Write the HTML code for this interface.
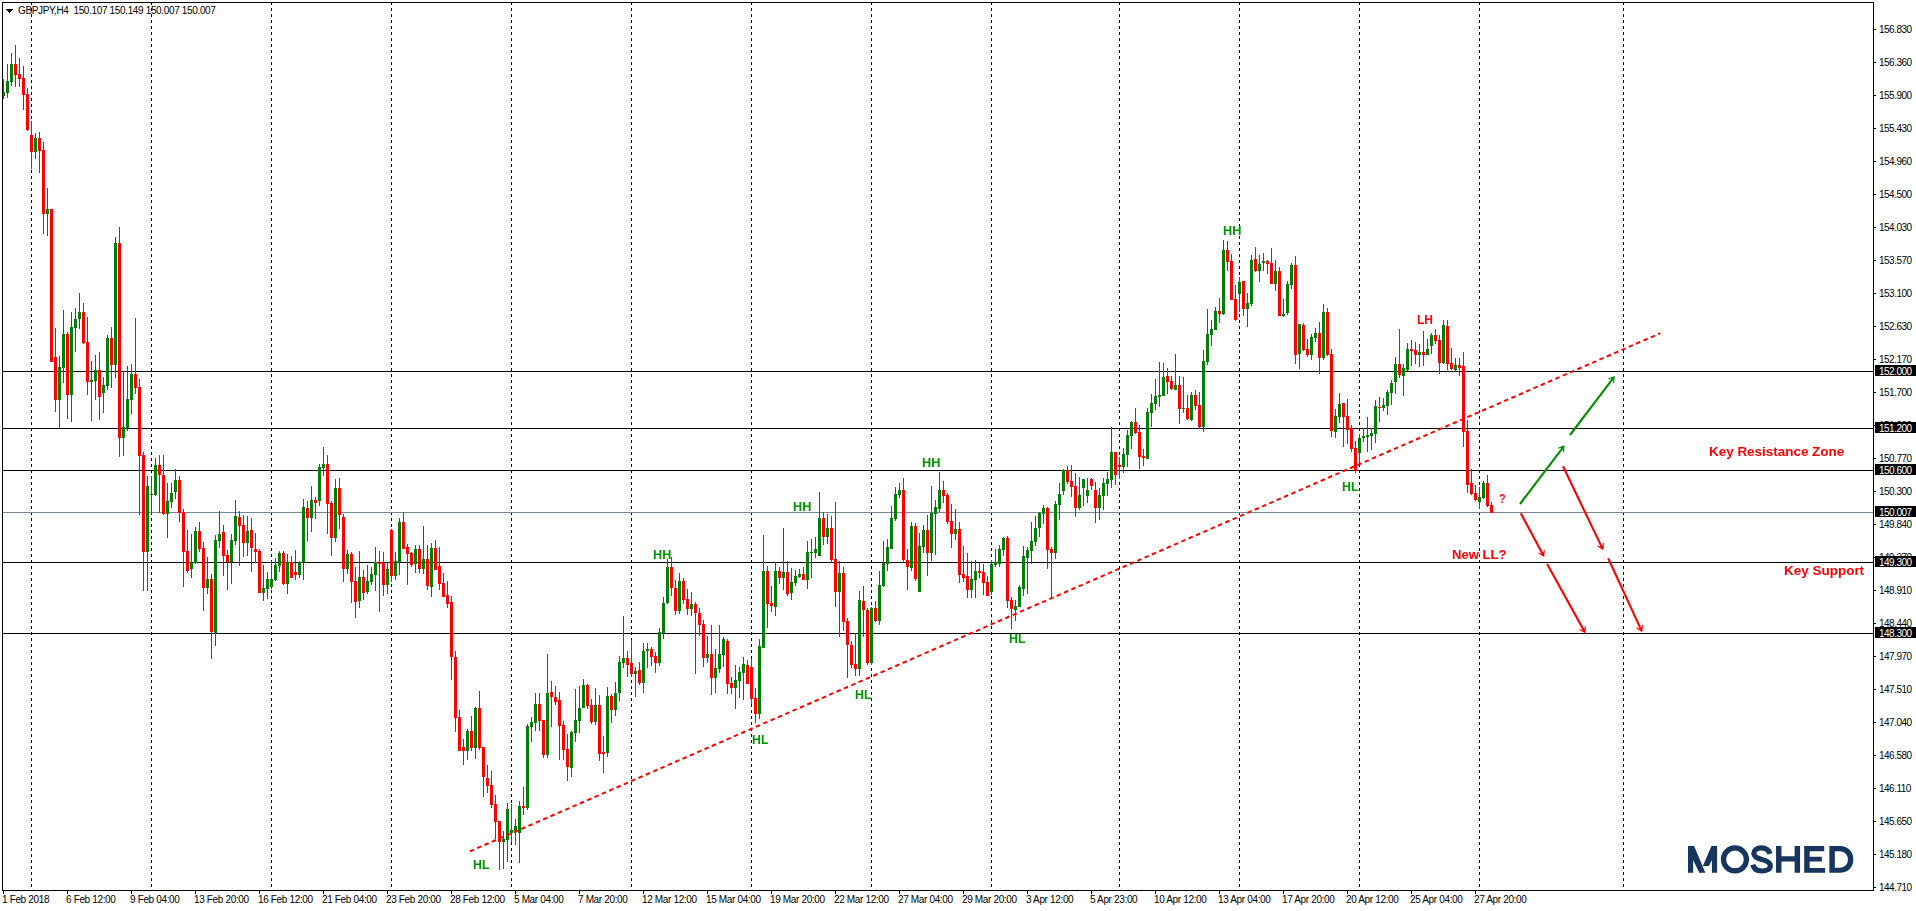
<!DOCTYPE html>
<html><head><meta charset="utf-8"><title>GBPJPY H4</title>
<style>
html,body{margin:0;padding:0;background:#fff;}
body{width:1916px;height:911px;overflow:hidden;position:relative;font-family:"Liberation Sans",sans-serif;}
svg{position:absolute;left:0;top:0;}
.t{position:absolute;white-space:nowrap;line-height:1;color:#000;}
.ax{font-size:10px;letter-spacing:-0.5px;}
.bx{font-size:10px;letter-spacing:-0.35px;}
.pl{position:absolute;left:1875px;width:41px;height:11px;background:#000;}
.lb{font-weight:bold;font-size:12px;will-change:transform;}
</style></head><body>
<svg width="1916" height="911" viewBox="0 0 1916 911" shape-rendering="crispEdges">
<g stroke="#000" stroke-width="1" stroke-dasharray="3 3">
<line x1="31.5" y1="2" x2="31.5" y2="890"/>
<line x1="151.5" y1="2" x2="151.5" y2="890"/>
<line x1="271.5" y1="2" x2="271.5" y2="890"/>
<line x1="391.5" y1="2" x2="391.5" y2="890"/>
<line x1="511.5" y1="2" x2="511.5" y2="890"/>
<line x1="631.5" y1="2" x2="631.5" y2="890"/>
<line x1="751.5" y1="2" x2="751.5" y2="890"/>
<line x1="871.5" y1="2" x2="871.5" y2="890"/>
<line x1="991.5" y1="2" x2="991.5" y2="890"/>
<line x1="1119.5" y1="2" x2="1119.5" y2="890"/>
<line x1="1239.5" y1="2" x2="1239.5" y2="890"/>
<line x1="1359.5" y1="2" x2="1359.5" y2="890"/>
<line x1="1479.5" y1="2" x2="1479.5" y2="890"/>
<line x1="1623.5" y1="2" x2="1623.5" y2="890"/>
</g>
<g fill="#000">
<rect x="3" y="371" width="1870" height="1"/>
<rect x="3" y="428" width="1870" height="1"/>
<rect x="3" y="470" width="1870" height="1"/>
<rect x="3" y="562" width="1870" height="1"/>
<rect x="3" y="633" width="1870" height="1"/>
</g>
<rect x="3" y="512" width="1870" height="1" fill="#778899"/>
<path fill="#008000" d="M3 79h1v20h-1zM2 92h3v4h-3zM7 64h1v34h-1zM6 81h3v12h-3zM11 53h1v33h-1zM10 64h3v18h-3zM35 133h1v26h-1zM34 138h3v14h-3zM47 188h1v48h-1zM46 209h3v5h-3zM59 356h1v72h-1zM58 367h3v33h-3zM63 310h1v73h-1zM62 334h3v34h-3zM71 312h1v110h-1zM70 327h3v68h-3zM75 308h1v44h-1zM74 319h3v9h-3zM79 293h1v36h-1zM78 312h3v7h-3zM91 361h1v60h-1zM90 380h3v2h-3zM95 355h1v45h-1zM94 370h3v11h-3zM103 377h1v36h-1zM102 385h3v8h-3zM107 335h1v55h-1zM106 338h3v48h-3zM115 237h1v141h-1zM114 243h3v122h-3zM123 371h1v85h-1zM122 427h3v11h-3zM127 366h1v65h-1zM126 399h3v29h-3zM131 364h1v50h-1zM130 374h3v26h-3zM147 476h1v115h-1zM146 486h3v66h-3zM151 476h1v38h-1zM150 494h3v1h-3zM155 458h1v38h-1zM154 465h3v30h-3zM167 483h1v55h-1zM166 501h3v13h-3zM171 483h1v25h-1zM170 493h3v9h-3zM175 469h1v30h-1zM174 480h3v12h-3zM191 534h1v44h-1zM190 562h3v7h-3zM195 527h1v37h-1zM194 531h3v32h-3zM207 557h1v37h-1zM206 579h3v9h-3zM215 535h1v111h-1zM214 540h3v93h-3zM219 511h1v37h-1zM218 534h3v7h-3zM231 534h1v50h-1zM230 540h3v22h-3zM235 500h1v45h-1zM234 516h3v25h-3zM247 516h1v40h-1zM246 531h3v12h-3zM263 565h1v36h-1zM262 588h3v5h-3zM267 572h1v27h-1zM266 579h3v10h-3zM271 561h1v28h-1zM270 579h3v8h-3zM275 558h1v23h-1zM274 565h3v15h-3zM279 551h1v21h-1zM278 553h3v13h-3zM287 554h1v40h-1zM286 562h3v22h-3zM299 561h1v17h-1zM298 562h3v13h-3zM303 499h1v81h-1zM302 507h3v55h-3zM311 486h1v46h-1zM310 500h3v18h-3zM319 464h1v42h-1zM318 467h3v34h-3zM323 447h1v29h-1zM322 464h3v4h-3zM335 479h1v63h-1zM334 488h3v50h-3zM347 550h1v24h-1zM346 554h3v15h-3zM359 551h1v57h-1zM358 577h3v24h-3zM367 565h1v29h-1zM366 581h3v11h-3zM371 567h1v18h-1zM370 574h3v8h-3zM375 547h1v44h-1zM374 562h3v13h-3zM387 562h1v32h-1zM386 569h3v16h-3zM395 552h1v28h-1zM394 561h3v15h-3zM399 518h1v57h-1zM398 522h3v40h-3zM415 545h1v28h-1zM414 549h3v15h-3zM423 526h1v48h-1zM422 559h3v10h-3zM431 543h1v54h-1zM430 548h3v39h-3zM467 729h1v31h-1zM466 731h3v20h-3zM475 707h1v52h-1zM474 708h3v40h-3zM503 831h1v38h-1zM502 839h3v3h-3zM507 803h1v59h-1zM506 809h3v31h-3zM511 804h1v38h-1zM510 830h3v3h-3zM515 819h1v26h-1zM514 826h3v5h-3zM519 801h1v62h-1zM518 806h3v27h-3zM527 724h1v86h-1zM526 726h3v82h-3zM531 717h1v25h-1zM530 722h3v5h-3zM535 693h1v38h-1zM534 704h3v19h-3zM547 654h1v104h-1zM546 693h3v62h-3zM571 731h1v46h-1zM570 732h3v36h-3zM575 689h1v53h-1zM574 720h3v13h-3zM579 686h1v47h-1zM578 708h3v13h-3zM583 679h1v29h-1zM582 685h3v23h-3zM595 688h1v37h-1zM594 705h3v17h-3zM607 687h1v70h-1zM606 696h3v57h-3zM615 682h1v34h-1zM614 693h3v17h-3zM619 656h1v45h-1zM618 662h3v31h-3zM623 616h1v52h-1zM622 658h3v5h-3zM635 667h1v30h-1zM634 671h3v3h-3zM643 643h1v50h-1zM642 651h3v32h-3zM647 643h1v25h-1zM646 649h3v2h-3zM659 628h1v38h-1zM658 632h3v31h-3zM663 597h1v42h-1zM662 603h3v30h-3zM667 559h1v45h-1zM666 567h3v36h-3zM679 573h1v41h-1zM678 581h3v30h-3zM691 592h1v24h-1zM690 604h3v5h-3zM707 636h1v27h-1zM706 654h3v4h-3zM715 649h1v44h-1zM714 668h3v10h-3zM719 625h1v48h-1zM718 654h3v15h-3zM723 637h1v30h-1zM722 639h3v16h-3zM735 665h1v44h-1zM734 680h3v8h-3zM739 667h1v31h-1zM738 672h3v9h-3zM743 657h1v43h-1zM742 664h3v9h-3zM759 639h1v80h-1zM758 646h3v68h-3zM763 535h1v113h-1zM762 571h3v77h-3zM775 562h1v54h-1zM774 571h3v36h-3zM783 528h1v62h-1zM782 572h3v6h-3zM791 568h1v32h-1zM790 582h3v11h-3zM795 570h1v16h-1zM794 576h3v7h-3zM799 569h1v9h-1zM798 574h3v3h-3zM807 541h1v48h-1zM806 552h3v28h-3zM811 539h1v39h-1zM810 552h3v1h-3zM815 537h1v21h-1zM814 549h3v4h-3zM819 492h1v64h-1zM818 518h3v38h-3zM827 514h1v30h-1zM826 528h3v9h-3zM839 561h1v76h-1zM838 573h3v19h-3zM859 591h1v85h-1zM858 600h3v69h-3zM871 607h1v58h-1zM870 608h3v55h-3zM879 571h1v54h-1zM878 585h3v36h-3zM883 541h1v46h-1zM882 563h3v23h-3zM887 539h1v32h-1zM886 547h3v17h-3zM891 506h1v43h-1zM890 518h3v31h-3zM895 487h1v34h-1zM894 494h3v25h-3zM899 483h1v15h-1zM898 490h3v5h-3zM911 522h1v49h-1zM910 526h3v42h-3zM919 533h1v59h-1zM918 546h3v46h-3zM923 525h1v28h-1zM922 530h3v17h-3zM931 486h1v75h-1zM930 513h3v40h-3zM935 500h1v55h-1zM934 507h3v7h-3zM939 472h1v40h-1zM938 490h3v19h-3zM955 509h1v31h-1zM954 529h3v5h-3zM971 561h1v37h-1zM970 579h3v11h-3zM975 560h1v38h-1zM974 571h3v9h-3zM991 560h1v35h-1zM990 564h3v28h-3zM995 549h1v18h-1zM994 562h3v3h-3zM999 545h1v22h-1zM998 549h3v15h-3zM1003 537h1v19h-1zM1002 538h3v12h-3zM1015 600h1v21h-1zM1014 606h3v4h-3zM1019 585h1v22h-1zM1018 587h3v20h-3zM1023 546h1v50h-1zM1022 556h3v33h-3zM1027 547h1v47h-1zM1026 550h3v8h-3zM1031 522h1v42h-1zM1030 541h3v10h-3zM1035 516h1v30h-1zM1034 528h3v14h-3zM1039 512h1v25h-1zM1038 513h3v15h-3zM1043 505h1v19h-1zM1042 508h3v6h-3zM1055 501h1v58h-1zM1054 504h3v49h-3zM1059 483h1v37h-1zM1058 494h3v11h-3zM1063 469h1v26h-1zM1062 470h3v21h-3zM1079 477h1v33h-1zM1078 495h3v13h-3zM1083 479h1v27h-1zM1082 479h3v9h-3zM1087 478h1v25h-1zM1086 490h3v6h-3zM1099 488h1v32h-1zM1098 495h3v13h-3zM1103 478h1v32h-1zM1102 483h3v13h-3zM1107 472h1v24h-1zM1106 479h3v5h-3zM1111 427h1v61h-1zM1110 452h3v28h-3zM1123 448h1v25h-1zM1122 454h3v13h-3zM1127 430h1v37h-1zM1126 435h3v20h-3zM1131 421h1v28h-1zM1130 422h3v14h-3zM1147 408h1v51h-1zM1146 412h3v47h-3zM1151 394h1v33h-1zM1150 403h3v10h-3zM1155 379h1v31h-1zM1154 396h3v8h-3zM1159 362h1v45h-1zM1158 395h3v2h-3zM1163 363h1v33h-1zM1162 377h3v19h-3zM1175 354h1v36h-1zM1174 385h3v5h-3zM1183 377h1v36h-1zM1182 408h3v1h-3zM1191 392h1v29h-1zM1190 395h3v25h-3zM1203 350h1v82h-1zM1202 361h3v66h-3zM1207 309h1v56h-1zM1206 334h3v28h-3zM1211 320h1v26h-1zM1210 329h3v6h-3zM1215 307h1v23h-1zM1214 311h3v19h-3zM1223 240h1v75h-1zM1222 250h3v64h-3zM1239 277h1v35h-1zM1238 282h3v12h-3zM1247 293h1v34h-1zM1246 303h3v6h-3zM1251 255h1v51h-1zM1250 260h3v44h-3zM1259 255h1v27h-1zM1258 264h3v7h-3zM1263 253h1v18h-1zM1262 261h3v2h-3zM1275 260h1v31h-1zM1274 271h3v13h-3zM1283 299h1v18h-1zM1282 314h3v2h-3zM1287 281h1v34h-1zM1286 284h3v29h-3zM1291 263h1v26h-1zM1290 265h3v20h-3zM1299 324h1v45h-1zM1298 324h3v30h-3zM1311 334h1v26h-1zM1310 337h3v18h-3zM1315 328h1v14h-1zM1314 333h3v5h-3zM1323 304h1v56h-1zM1322 312h3v46h-3zM1335 409h1v29h-1zM1334 416h3v16h-3zM1339 393h1v30h-1zM1338 404h3v13h-3zM1359 434h1v30h-1zM1358 438h3v15h-3zM1363 428h1v14h-1zM1362 436h3v2h-3zM1367 417h1v35h-1zM1366 435h3v2h-3zM1371 428h1v22h-1zM1370 433h3v3h-3zM1375 400h1v43h-1zM1374 406h3v28h-3zM1383 398h1v13h-1zM1382 405h3v3h-3zM1387 390h1v25h-1zM1386 392h3v14h-3zM1391 380h1v25h-1zM1390 383h3v10h-3zM1395 357h1v37h-1zM1394 364h3v18h-3zM1403 364h1v32h-1zM1402 368h3v8h-3zM1407 343h1v28h-1zM1406 349h3v21h-3zM1419 344h1v23h-1zM1418 352h3v3h-3zM1427 339h1v16h-1zM1426 349h3v6h-3zM1431 333h1v21h-1zM1430 335h3v11h-3zM1443 320h1v44h-1zM1442 325h3v38h-3zM1455 358h1v14h-1zM1454 365h3v5h-3zM1479 487h1v22h-1zM1478 497h3v5h-3zM1483 481h1v18h-1zM1482 483h3v15h-3z"/>
<path fill="#ff0000" d="M15 45h1v42h-1zM14 64h3v11h-3zM19 58h1v29h-1zM18 74h3v5h-3zM23 66h1v44h-1zM22 78h3v17h-3zM27 88h1v43h-1zM26 94h3v36h-3zM31 121h1v48h-1zM30 135h3v17h-3zM39 132h1v41h-1zM38 138h3v13h-3zM43 142h1v92h-1zM42 150h3v64h-3zM51 209h1v153h-1zM50 209h3v153h-3zM55 328h1v84h-1zM54 357h3v43h-3zM67 332h1v87h-1zM66 334h3v61h-3zM83 303h1v41h-1zM82 312h3v31h-3zM87 317h1v78h-1zM86 342h3v40h-3zM99 352h1v68h-1zM98 370h3v27h-3zM111 327h1v61h-1zM110 338h3v27h-3zM119 227h1v230h-1zM118 243h3v195h-3zM135 318h1v76h-1zM134 374h3v14h-3zM139 379h1v136h-1zM138 387h3v69h-3zM143 452h1v139h-1zM142 455h3v97h-3zM159 455h1v58h-1zM158 465h3v10h-3zM163 455h1v60h-1zM162 475h3v39h-3zM179 476h1v46h-1zM178 480h3v33h-3zM183 509h1v78h-1zM182 512h3v40h-3zM187 530h1v43h-1zM186 551h3v20h-3zM199 522h1v30h-1zM198 531h3v18h-3zM203 542h1v69h-1zM202 548h3v40h-3zM211 574h1v85h-1zM210 579h3v53h-3zM223 525h1v51h-1zM222 532h3v24h-3zM227 550h1v40h-1zM226 555h3v7h-3zM239 511h1v55h-1zM238 517h3v9h-3zM243 515h1v42h-1zM242 525h3v18h-3zM251 518h1v54h-1zM250 530h3v18h-3zM255 533h1v30h-1zM254 549h3v3h-3zM259 549h1v44h-1zM258 551h3v42h-3zM283 551h1v34h-1zM282 553h3v31h-3zM291 556h1v22h-1zM290 562h3v16h-3zM295 550h1v30h-1zM294 572h3v3h-3zM307 501h1v40h-1zM306 508h3v10h-3zM315 497h1v22h-1zM314 500h3v3h-3zM327 455h1v79h-1zM326 464h3v40h-3zM331 501h1v55h-1zM330 503h3v35h-3zM339 478h1v51h-1zM338 488h3v27h-3zM343 514h1v68h-1zM342 517h3v52h-3zM351 552h1v51h-1zM350 554h3v28h-3zM355 567h1v51h-1zM354 581h3v21h-3zM363 570h1v30h-1zM362 577h3v16h-3zM379 551h1v61h-1zM378 562h3v2h-3zM383 552h1v44h-1zM382 563h3v22h-3zM391 529h1v53h-1zM390 530h3v46h-3zM403 512h1v37h-1zM402 522h3v27h-3zM407 544h1v41h-1zM406 547h3v7h-3zM411 552h1v15h-1zM410 553h3v12h-3zM419 545h1v28h-1zM418 549h3v20h-3zM427 545h1v45h-1zM426 559h3v27h-3zM435 540h1v30h-1zM434 548h3v22h-3zM439 547h1v43h-1zM438 566h3v18h-3zM443 573h1v24h-1zM442 583h3v14h-3zM447 581h1v27h-1zM446 595h3v9h-3zM451 596h1v84h-1zM450 602h3v55h-3zM455 651h1v81h-1zM454 657h3v61h-3zM459 710h1v41h-1zM458 717h3v34h-3zM463 739h1v26h-1zM462 747h3v4h-3zM471 716h1v35h-1zM470 731h3v17h-3zM479 691h1v59h-1zM478 708h3v40h-3zM483 747h1v50h-1zM482 747h3v30h-3zM487 765h1v28h-1zM486 778h3v8h-3zM491 771h1v37h-1zM490 785h3v20h-3zM495 795h1v44h-1zM494 804h3v18h-3zM499 821h1v49h-1zM498 821h3v21h-3zM523 787h1v28h-1zM522 806h3v2h-3zM539 693h1v38h-1zM538 704h3v17h-3zM543 720h1v38h-1zM542 720h3v35h-3zM551 681h1v46h-1zM550 692h3v5h-3zM555 686h1v19h-1zM554 697h3v5h-3zM559 692h1v68h-1zM558 700h3v26h-3zM563 721h1v39h-1zM562 725h3v25h-3zM567 734h1v47h-1zM566 749h3v18h-3zM587 684h1v25h-1zM586 685h3v21h-3zM591 699h1v25h-1zM590 705h3v17h-3zM599 695h1v66h-1zM598 705h3v49h-3zM603 736h1v37h-1zM602 752h3v2h-3zM611 694h1v29h-1zM610 696h3v14h-3zM627 651h1v26h-1zM626 658h3v7h-3zM631 640h1v37h-1zM630 663h3v11h-3zM639 662h1v23h-1zM638 670h3v13h-3zM651 647h1v19h-1zM650 649h3v8h-3zM655 652h1v21h-1zM654 656h3v7h-3zM671 557h1v39h-1zM670 567h3v21h-3zM675 580h1v35h-1zM674 588h3v23h-3zM683 578h1v26h-1zM682 581h3v19h-3zM687 589h1v26h-1zM686 599h3v10h-3zM695 602h1v72h-1zM694 604h3v9h-3zM699 608h1v28h-1zM698 613h3v12h-3zM703 620h1v47h-1zM702 624h3v34h-3zM711 625h1v70h-1zM710 654h3v24h-3zM727 639h1v55h-1zM726 641h3v43h-3zM731 677h1v17h-1zM730 683h3v5h-3zM747 660h1v24h-1zM746 665h3v19h-3zM751 659h1v45h-1zM750 667h3v32h-3zM755 688h1v35h-1zM754 698h3v16h-3zM767 566h1v62h-1zM766 571h3v33h-3zM771 586h1v26h-1zM770 603h3v3h-3zM779 567h1v17h-1zM778 571h3v7h-3zM787 561h1v35h-1zM786 572h3v22h-3zM803 567h1v13h-1zM802 574h3v6h-3zM823 512h1v33h-1zM822 518h3v19h-3zM831 516h1v47h-1zM830 528h3v32h-3zM835 502h1v105h-1zM834 559h3v33h-3zM843 567h1v64h-1zM842 573h3v49h-3zM847 618h1v60h-1zM846 621h3v24h-3zM851 641h1v27h-1zM850 645h3v20h-3zM855 633h1v43h-1zM854 664h3v5h-3zM863 586h1v51h-1zM862 601h3v9h-3zM867 608h1v57h-1zM866 610h3v53h-3zM875 601h1v21h-1zM874 608h3v13h-3zM903 478h1v85h-1zM902 490h3v70h-3zM907 549h1v41h-1zM906 560h3v7h-3zM915 523h1v58h-1zM914 526h3v53h-3zM927 515h1v61h-1zM926 530h3v23h-3zM943 481h1v22h-1zM942 490h3v6h-3zM947 493h1v31h-1zM946 495h3v27h-3zM951 504h1v44h-1zM950 521h3v13h-3zM959 522h1v61h-1zM958 529h3v46h-3zM963 546h1v36h-1zM962 574h3v4h-3zM967 553h1v45h-1zM966 576h3v14h-3zM979 563h1v15h-1zM978 571h3v2h-3zM983 564h1v31h-1zM982 572h3v11h-3zM987 576h1v20h-1zM986 582h3v14h-3zM1007 536h1v72h-1zM1006 538h3v63h-3zM1011 597h1v32h-1zM1010 600h3v9h-3zM1047 507h1v62h-1zM1046 508h3v42h-3zM1051 547h1v52h-1zM1050 549h3v4h-3zM1067 466h1v18h-1zM1066 470h3v12h-3zM1071 465h1v32h-1zM1070 481h3v6h-3zM1075 473h1v44h-1zM1074 486h3v22h-3zM1091 478h1v12h-1zM1090 479h3v7h-3zM1095 482h1v41h-1zM1094 490h3v18h-3zM1115 452h1v33h-1zM1114 452h3v23h-3zM1119 457h1v22h-1zM1118 465h3v2h-3zM1135 408h1v26h-1zM1134 422h3v11h-3zM1139 425h1v44h-1zM1138 432h3v25h-3zM1143 449h1v17h-1zM1142 456h3v2h-3zM1167 368h1v26h-1zM1166 376h3v6h-3zM1171 376h1v14h-1zM1170 381h3v8h-3zM1179 376h1v48h-1zM1178 385h3v24h-3zM1187 395h1v25h-1zM1186 408h3v11h-3zM1195 390h1v20h-1zM1194 395h3v11h-3zM1199 392h1v37h-1zM1198 405h3v22h-3zM1219 298h1v25h-1zM1218 311h3v3h-3zM1227 241h1v30h-1zM1226 250h3v12h-3zM1231 254h1v46h-1zM1230 261h3v39h-3zM1235 285h1v36h-1zM1234 299h3v21h-3zM1243 281h1v35h-1zM1242 281h3v28h-3zM1255 247h1v25h-1zM1254 259h3v12h-3zM1267 260h1v14h-1zM1266 261h3v3h-3zM1271 248h1v36h-1zM1270 263h3v21h-3zM1279 267h1v49h-1zM1278 271h3v45h-3zM1295 256h1v108h-1zM1294 265h3v90h-3zM1303 323h1v28h-1zM1302 325h3v25h-3zM1307 339h1v18h-1zM1306 349h3v6h-3zM1319 322h1v52h-1zM1318 333h3v25h-3zM1327 308h1v48h-1zM1326 312h3v43h-3zM1331 349h1v88h-1zM1330 354h3v77h-3zM1343 403h1v44h-1zM1342 403h3v14h-3zM1347 399h1v45h-1zM1346 416h3v14h-3zM1351 425h1v27h-1zM1350 428h3v21h-3zM1355 441h1v32h-1zM1354 448h3v23h-3zM1379 397h1v25h-1zM1378 407h3v1h-3zM1399 329h1v49h-1zM1398 364h3v11h-3zM1411 340h1v26h-1zM1410 349h3v2h-3zM1415 342h1v22h-1zM1414 350h3v5h-3zM1423 331h1v35h-1zM1422 352h3v3h-3zM1435 329h1v15h-1zM1434 335h3v6h-3zM1439 335h1v39h-1zM1438 340h3v23h-3zM1447 320h1v50h-1zM1446 326h3v38h-3zM1451 348h1v22h-1zM1450 363h3v6h-3zM1459 358h1v18h-1zM1458 365h3v3h-3zM1463 352h1v95h-1zM1462 366h3v66h-3zM1467 420h1v73h-1zM1466 431h3v54h-3zM1471 469h1v26h-1zM1470 483h3v11h-3zM1475 485h1v16h-1zM1474 493h3v7h-3zM1487 475h1v32h-1zM1486 483h3v23h-3zM1491 502h1v11h-1zM1490 505h3v8h-3z"/>
<g fill="#000">
<rect x="2" y="2" width="1872" height="1"/>
<rect x="2" y="2" width="1" height="889"/>
<rect x="1873" y="2" width="1" height="889"/>
<rect x="2" y="890" width="1872" height="1"/>
<rect x="1874" y="29" width="2" height="1"/>
<rect x="1874" y="62" width="2" height="1"/>
<rect x="1874" y="95" width="2" height="1"/>
<rect x="1874" y="128" width="2" height="1"/>
<rect x="1874" y="161" width="2" height="1"/>
<rect x="1874" y="194" width="2" height="1"/>
<rect x="1874" y="227" width="2" height="1"/>
<rect x="1874" y="260" width="2" height="1"/>
<rect x="1874" y="293" width="2" height="1"/>
<rect x="1874" y="326" width="2" height="1"/>
<rect x="1874" y="359" width="2" height="1"/>
<rect x="1874" y="392" width="2" height="1"/>
<rect x="1874" y="425" width="2" height="1"/>
<rect x="1874" y="458" width="2" height="1"/>
<rect x="1874" y="491" width="2" height="1"/>
<rect x="1874" y="524" width="2" height="1"/>
<rect x="1874" y="557" width="2" height="1"/>
<rect x="1874" y="590" width="2" height="1"/>
<rect x="1874" y="623" width="2" height="1"/>
<rect x="1874" y="656" width="2" height="1"/>
<rect x="1874" y="689" width="2" height="1"/>
<rect x="1874" y="722" width="2" height="1"/>
<rect x="1874" y="755" width="2" height="1"/>
<rect x="1874" y="788" width="2" height="1"/>
<rect x="1874" y="821" width="2" height="1"/>
<rect x="1874" y="854" width="2" height="1"/>
<rect x="1874" y="887" width="2" height="1"/>
<rect x="3" y="891" width="1" height="3"/>
<rect x="67" y="891" width="1" height="3"/>
<rect x="131" y="891" width="1" height="3"/>
<rect x="195" y="891" width="1" height="3"/>
<rect x="259" y="891" width="1" height="3"/>
<rect x="323" y="891" width="1" height="3"/>
<rect x="387" y="891" width="1" height="3"/>
<rect x="451" y="891" width="1" height="3"/>
<rect x="515" y="891" width="1" height="3"/>
<rect x="579" y="891" width="1" height="3"/>
<rect x="643" y="891" width="1" height="3"/>
<rect x="707" y="891" width="1" height="3"/>
<rect x="771" y="891" width="1" height="3"/>
<rect x="835" y="891" width="1" height="3"/>
<rect x="899" y="891" width="1" height="3"/>
<rect x="963" y="891" width="1" height="3"/>
<rect x="1027" y="891" width="1" height="3"/>
<rect x="1091" y="891" width="1" height="3"/>
<rect x="1155" y="891" width="1" height="3"/>
<rect x="1219" y="891" width="1" height="3"/>
<rect x="1283" y="891" width="1" height="3"/>
<rect x="1347" y="891" width="1" height="3"/>
<rect x="1411" y="891" width="1" height="3"/>
<rect x="1475" y="891" width="1" height="3"/>
<path d="M6 9h7l-3.5 4z"/>
</g>
</svg>
<svg width="1916" height="911" viewBox="0 0 1916 911">
<line x1="469.8" y1="851.4" x2="1660.3" y2="333.2" stroke="#ff0000" stroke-width="2" stroke-dasharray="4.5 3.5"/>
<line x1="1520" y1="504" x2="1563.4" y2="446.8" stroke="#009000" stroke-width="2.1"/>
<path d="M1563.4 452.3L1564 446L1558.1 448.3" fill="none" stroke="#009000" stroke-width="1.05" stroke-linejoin="miter"/>
<path d="M1564 446L1563.6 450.2L1562.1 448.5L1560.1 447.5z" fill="#009000"/>
<line x1="1570" y1="435" x2="1613.6" y2="377.6" stroke="#009000" stroke-width="2.1"/>
<path d="M1613.6 383.1L1614.2 376.8L1608.3 379.1" fill="none" stroke="#009000" stroke-width="1.05" stroke-linejoin="miter"/>
<path d="M1614.2 376.8L1613.8 381.0L1612.3 379.3L1610.3 378.3z" fill="#009000"/>
<line x1="1563" y1="466.3" x2="1602.4" y2="548.4" stroke="#ff0000" stroke-width="2.1"/>
<path d="M1597.5 545.9L1602.8 549.3L1603.4 543.0" fill="none" stroke="#ff0000" stroke-width="1.05" stroke-linejoin="miter"/>
<path d="M1602.8 549.3L1599.3 547.0L1601.4 546.4L1603.2 545.1z" fill="#ff0000"/>
<line x1="1520.8" y1="513.3" x2="1543.3" y2="555.2" stroke="#ff0000" stroke-width="2.1"/>
<path d="M1538.4 552.9L1543.8 556.1L1544.2 549.8" fill="none" stroke="#ff0000" stroke-width="1.05" stroke-linejoin="miter"/>
<path d="M1543.8 556.1L1540.2 554.0L1542.3 553.3L1544.0 551.9z" fill="#ff0000"/>
<line x1="1547.1" y1="564.1" x2="1584.5" y2="631.6" stroke="#ff0000" stroke-width="2.1"/>
<path d="M1579.5 629.4L1585 632.5L1585.3 626.2" fill="none" stroke="#ff0000" stroke-width="1.05" stroke-linejoin="miter"/>
<path d="M1585 632.5L1581.3 630.4L1583.4 629.7L1585.2 628.3z" fill="#ff0000"/>
<line x1="1608.2" y1="558.2" x2="1641.4" y2="630.4" stroke="#ff0000" stroke-width="2.1"/>
<path d="M1636.6 627.8L1641.8 631.3L1642.5 625.0" fill="none" stroke="#ff0000" stroke-width="1.05" stroke-linejoin="miter"/>
<path d="M1641.8 631.3L1638.3 629.0L1640.5 628.4L1642.3 627.1z" fill="#ff0000"/>
<g transform="translate(1680,838) scale(0.09395)" fill="#17355d"><path d="M85 85H150L270 370H205L140 235V370H85Z"/><path d="M335 85H395V370H340V235L308 297H243Z"/><circle cx="585" cy="228" r="122" fill="none" stroke="#17355d" stroke-width="56"/><path d="M958 168C942 122 902 105 868 105C815 105 786 133 786 165C786 200 820 215 870 228C930 243 962 258 962 295C962 330 925 351 870 351C820 351 786 327 775 285" fill="none" stroke="#17355d" stroke-width="55"/><path d="M1022 85H1080V195H1220V85H1278V370H1220V250H1080V370H1022Z"/><path d="M1322 85H1535V140H1380V200H1510V250H1380V318H1545V370H1322Z"/><path fill-rule="evenodd" d="M1590 85H1700C1790 85 1845 145 1845 228C1845 310 1790 370 1700 370H1590ZM1648 140V316H1700C1755 316 1787 275 1787 228C1787 180 1755 140 1700 140Z"/></g>
</svg>
<div class="t ax" style="left:1879px;top:25px">156.830</div>
<div class="t ax" style="left:1879px;top:58px">156.360</div>
<div class="t ax" style="left:1879px;top:91px">155.900</div>
<div class="t ax" style="left:1879px;top:124px">155.430</div>
<div class="t ax" style="left:1879px;top:157px">154.960</div>
<div class="t ax" style="left:1879px;top:190px">154.500</div>
<div class="t ax" style="left:1879px;top:223px">154.030</div>
<div class="t ax" style="left:1879px;top:256px">153.570</div>
<div class="t ax" style="left:1879px;top:289px">153.100</div>
<div class="t ax" style="left:1879px;top:322px">152.630</div>
<div class="t ax" style="left:1879px;top:355px">152.170</div>
<div class="t ax" style="left:1879px;top:388px">151.700</div>
<div class="t ax" style="left:1879px;top:421px">151.230</div>
<div class="t ax" style="left:1879px;top:454px">150.770</div>
<div class="t ax" style="left:1879px;top:487px">150.300</div>
<div class="t ax" style="left:1879px;top:520px">149.840</div>
<div class="t ax" style="left:1879px;top:553px">149.370</div>
<div class="t ax" style="left:1879px;top:586px">148.910</div>
<div class="t ax" style="left:1879px;top:619px">148.440</div>
<div class="t ax" style="left:1879px;top:652px">147.970</div>
<div class="t ax" style="left:1879px;top:685px">147.510</div>
<div class="t ax" style="left:1879px;top:718px">147.040</div>
<div class="t ax" style="left:1879px;top:751px">146.580</div>
<div class="t ax" style="left:1879px;top:784px">146.110</div>
<div class="t ax" style="left:1879px;top:817px">145.650</div>
<div class="t ax" style="left:1879px;top:850px">145.180</div>
<div class="t ax" style="left:1879px;top:883px">144.710</div>
<div class="pl" style="top:365px"></div><div class="t ax" style="left:1879px;top:367px;color:#fff">152.000</div>
<div class="pl" style="top:422px"></div><div class="t ax" style="left:1879px;top:424px;color:#fff">151.200</div>
<div class="pl" style="top:464px"></div><div class="t ax" style="left:1879px;top:466px;color:#fff">150.600</div>
<div class="pl" style="top:506px"></div><div class="t ax" style="left:1879px;top:508px;color:#fff">150.007</div>
<div class="pl" style="top:556px"></div><div class="t ax" style="left:1879px;top:558px;color:#fff">149.300</div>
<div class="pl" style="top:627px"></div><div class="t ax" style="left:1879px;top:629px;color:#fff">148.300</div>
<div class="t bx" style="left:2px;top:894.9px">1 Feb 2018</div>
<div class="t bx" style="left:66px;top:894.9px">6 Feb 12:00</div>
<div class="t bx" style="left:130px;top:894.9px">9 Feb 04:00</div>
<div class="t bx" style="left:194px;top:894.9px">13 Feb 20:00</div>
<div class="t bx" style="left:258px;top:894.9px">16 Feb 12:00</div>
<div class="t bx" style="left:322px;top:894.9px">21 Feb 04:00</div>
<div class="t bx" style="left:386px;top:894.9px">23 Feb 20:00</div>
<div class="t bx" style="left:450px;top:894.9px">28 Feb 12:00</div>
<div class="t bx" style="left:514px;top:894.9px">5 Mar 04:00</div>
<div class="t bx" style="left:578px;top:894.9px">7 Mar 20:00</div>
<div class="t bx" style="left:642px;top:894.9px">12 Mar 12:00</div>
<div class="t bx" style="left:706px;top:894.9px">15 Mar 04:00</div>
<div class="t bx" style="left:770px;top:894.9px">19 Mar 20:00</div>
<div class="t bx" style="left:834px;top:894.9px">22 Mar 12:00</div>
<div class="t bx" style="left:898px;top:894.9px">27 Mar 04:00</div>
<div class="t bx" style="left:962px;top:894.9px">29 Mar 20:00</div>
<div class="t bx" style="left:1026px;top:894.9px">3 Apr 12:00</div>
<div class="t bx" style="left:1090px;top:894.9px">5 Apr 23:00</div>
<div class="t bx" style="left:1154px;top:894.9px">10 Apr 12:00</div>
<div class="t bx" style="left:1218px;top:894.9px">13 Apr 04:00</div>
<div class="t bx" style="left:1282px;top:894.9px">17 Apr 20:00</div>
<div class="t bx" style="left:1346px;top:894.9px">20 Apr 12:00</div>
<div class="t bx" style="left:1410px;top:894.9px">25 Apr 04:00</div>
<div class="t bx" style="left:1474px;top:894.9px">27 Apr 20:00</div>
<div class="t" style="left:18px;top:6px;font-size:10px;letter-spacing:-0.35px">GBPJPY,H4&nbsp; 150.107 150.149 150.007 150.007</div>
<div class="t lb" style="left:472.5px;top:858.50px;color:#009600;transform:scaleX(1.03);transform-origin:0 50%">HL</div>
<div class="t lb" style="left:751.6px;top:734.30px;color:#009600;transform:scaleX(1.03);transform-origin:0 50%">HL</div>
<div class="t lb" style="left:854.6px;top:688.50px;color:#009600;transform:scaleX(1.03);transform-origin:0 50%">HL</div>
<div class="t lb" style="left:1008.9px;top:633.00px;color:#009600;transform:scaleX(1.03);transform-origin:0 50%">HL</div>
<div class="t lb" style="left:1341.8px;top:481.40px;color:#009600;transform:scaleX(1.03);transform-origin:0 50%">HL</div>
<div class="t lb" style="left:653px;top:549.30px;color:#009600;transform:scaleX(1.06);transform-origin:0 50%">HH</div>
<div class="t lb" style="left:792.8px;top:500.70px;color:#009600;transform:scaleX(1.06);transform-origin:0 50%">HH</div>
<div class="t lb" style="left:921.9px;top:457.30px;color:#009600;transform:scaleX(1.06);transform-origin:0 50%">HH</div>
<div class="t lb" style="left:1223px;top:225.30px;color:#009600;transform:scaleX(1.06);transform-origin:0 50%">HH</div>
<div class="t lb" style="left:1417px;top:314.00px;color:#ff0000;transform:scaleX(1.0);transform-origin:0 50%">LH</div>
<div class="t lb" style="left:1451.6px;top:549.00px;color:#ff0000;transform:scaleX(1.09);transform-origin:0 50%">New LL?</div>
<div class="t lb" style="left:1784.2px;top:565.40px;color:#ff0000;transform:scaleX(1.123);transform-origin:0 50%">Key Support</div>
<div class="t lb" style="left:1709px;top:445.90px;color:#ff0000;transform:scaleX(1.12);transform-origin:0 50%">Key Resistance Zone</div>
<div class="t lb" style="left:1498.6px;top:492.90px;color:#ff0000;transform:scaleX(0.9);transform-origin:0 50%">?</div>
</body></html>
